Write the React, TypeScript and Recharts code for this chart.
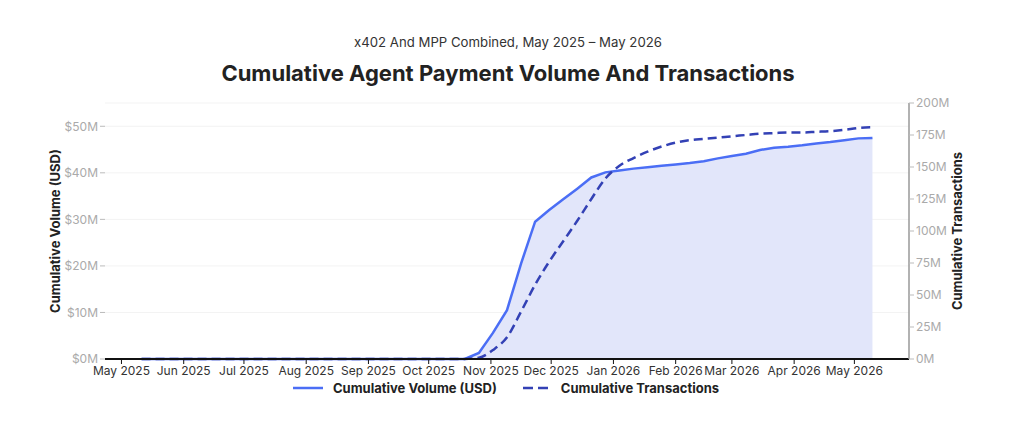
import React from "react";
import {
  ComposedChart, Area, Line, XAxis, YAxis, CartesianGrid
} from "recharts";

// weekly snapshots (Sundays), May 11 2025 -> May 10 2026
const weekStarts: string[] = [
  "2025-05-11", "2025-05-18", "2025-05-25", "2025-06-01", "2025-06-08", "2025-06-15",
  "2025-06-22", "2025-06-29", "2025-07-06", "2025-07-13", "2025-07-20", "2025-07-27",
  "2025-08-03", "2025-08-10", "2025-08-17", "2025-08-24", "2025-08-31", "2025-09-07",
  "2025-09-14", "2025-09-21", "2025-09-28", "2025-10-05", "2025-10-12", "2025-10-19",
  "2025-10-26", "2025-11-02", "2025-11-09", "2025-11-16", "2025-11-23", "2025-11-30",
  "2025-12-07", "2025-12-14", "2025-12-21", "2025-12-28", "2026-01-04", "2026-01-11",
  "2026-01-18", "2026-01-25", "2026-02-01", "2026-02-08", "2026-02-15", "2026-02-22",
  "2026-03-01", "2026-03-08", "2026-03-15", "2026-03-22", "2026-03-29", "2026-04-05",
  "2026-04-12", "2026-04-19", "2026-04-26", "2026-05-03", "2026-05-10",
];

// cumulative volume, millions of USD
const volumeUsdM: number[] = [
  0, 0, 0, 0, 0, 0,
  0, 0, 0, 0, 0, 0,
  0, 0, 0, 0, 0, 0,
  0, 0, 0, 0, 0, 0,
  1.3, 5.6, 10.5, 20.5, 29.5, 32.0,
  34.3, 36.6, 39.0, 40.1, 40.5, 40.9,
  41.2, 41.5, 41.8, 42.1, 42.5, 43.1,
  43.6, 44.1, 44.9, 45.4, 45.6, 45.9,
  46.3, 46.6, 47.0, 47.4, 47.5,
];

// cumulative transactions, millions
const transactionsM: number[] = [
  0, 0, 0, 0, 0, 0,
  0, 0, 0, 0, 0, 0,
  0, 0, 0, 0, 0, 0,
  0, 0, 0, 0, 0, 0,
  1, 7, 17, 37, 58, 76,
  92, 108, 125, 141, 151, 157,
  162, 166, 169, 171, 172, 173,
  174, 175, 176, 176.5, 177, 177,
  177.5, 178, 179, 180.5, 181,
];

const monthTicks: string[] = [
  "2025-05-01", "2025-06-01", "2025-07-01", "2025-08-01", "2025-09-01", "2025-10-01",
  "2025-11-01", "2025-12-01", "2026-01-01", "2026-02-01", "2026-03-01", "2026-04-01",
  "2026-05-01",
];

const volumeTicks = [0, 10, 20, 30, 40, 50];
const txTicks = [0, 25, 50, 75, 100, 125, 150, 175, 200];

const MONTHS = ["Jan", "Feb", "Mar", "Apr", "May", "Jun", "Jul", "Aug", "Sep", "Oct", "Nov", "Dec"];
const ts = (d: string) => Date.parse(d + "T00:00:00Z");

const data = weekStarts.map((d, i) => ({
  t: ts(d),
  volume: volumeUsdM[i] * 1e6,
  tx: transactionsM[i] * 1e6,
}));

const tMin = data[0].t;
const tMax = data[data.length - 1].t;
const pad = (tMax - tMin) * 0.05;

const FONT = "Inter, 'Liberation Sans', Arial, sans-serif";
const SOLID = "#4b6ef5";
const DASHED = "#3341b5";

const fmtMonth = (v: number) => {
  const d = new Date(v);
  return `${MONTHS[d.getUTCMonth()]} ${d.getUTCFullYear()}`;
};

const App: React.FC = () => {
  return (
    <div style={{ position: "absolute", left: 0, top: 0, width: 1024, height: 431, background: "#fff", fontFamily: FONT }}>
      <div style={{ position: "absolute", top: 34, width: 1016, textAlign: "center", fontSize: 13.2, color: "#333" }}>
        x402 And MPP Combined, May 2025 – May 2026
      </div>
      <div style={{ position: "absolute", top: 60, width: 1016, textAlign: "center", fontSize: 22, fontWeight: 700, color: "#222" }}>
        Cumulative Agent Payment Volume And Transactions
      </div>

      <div style={{ position: "absolute", left: 0, top: 0 }}>
        <ComposedChart width={1024} height={431} data={data}
          margin={{ top: 103, right: 55, bottom: 42, left: 45 }}>
          <CartesianGrid yAxisId="left" vertical={false} stroke="#f3f3f3" />
          <XAxis dataKey="t" type="number" scale="time"
            domain={[tMin - pad, tMax + pad]}
            ticks={monthTicks.map(ts)} tickFormatter={fmtMonth}
            height={30} stroke="#111" axisLine={{ stroke: "#111", strokeWidth: 2 }}
            tickLine={{ stroke: "#111" }} tickSize={5}
            tick={{ fill: "#333", fontSize: 12, fontFamily: FONT }}
            interval={0} allowDataOverflow />
          <YAxis yAxisId="left" domain={[0, 55e6]} ticks={volumeTicks.map(v => v * 1e6)}
            tickFormatter={(v: number) => `$${v / 1e6}M`} width={60}
            axisLine={false} tickLine={{ stroke: "#bbb" }} tickSize={5}
            tick={{ fill: "#aaa", fontSize: 12, fontFamily: FONT }}
            label={{ value: "Cumulative Volume (USD)", angle: -90, position: "insideLeft", offset: 10,
              style: { textAnchor: "middle", fill: "#222", fontSize: 13, fontWeight: 700, fontFamily: FONT } }} />
          <YAxis yAxisId="right" orientation="right" domain={[0, 200e6]} ticks={txTicks.map(v => v * 1e6)}
            tickFormatter={(v: number) => `${v / 1e6}M`} width={60}
            axisLine={{ stroke: "#999", strokeWidth: 1.5 }} tickLine={{ stroke: "#bbb" }} tickSize={5}
            tick={{ fill: "#aaa", fontSize: 12, fontFamily: FONT }}
            label={{ value: "Cumulative Transactions", angle: -90, position: "insideRight", offset: 12,
              style: { textAnchor: "middle", fill: "#222", fontSize: 13, fontWeight: 700, fontFamily: FONT } }} />
          <Area yAxisId="left" type="linear" dataKey="volume" stroke={SOLID} strokeWidth={2.5}
            fill="#e2e6fa" fillOpacity={1} isAnimationActive={false} />
          <Line yAxisId="right" type="monotone" dataKey="tx" stroke={DASHED} strokeWidth={2.5}
            strokeDasharray="9 5" dot={false} isAnimationActive={false} />
        </ComposedChart>
      </div>

      {/* legend */}
      <div style={{ position: "absolute", top: 380, left: 293, display: "flex", alignItems: "center", fontSize: 13, fontWeight: 700, color: "#222" }}>
        <svg width={30} height={6}><line x1={0} y1={3} x2={30} y2={3} stroke={SOLID} strokeWidth={2.5} /></svg>
        <span style={{ marginLeft: 10 }}>Cumulative Volume (USD)</span>
        <svg width={28} height={6} style={{ marginLeft: 26 }}><line x1={0} y1={3} x2={28} y2={3} stroke={DASHED} strokeWidth={2.5} strokeDasharray="10 5" /></svg>
        <span style={{ marginLeft: 10 }}>Cumulative Transactions</span>
      </div>
    </div>
  );
};

export default App;
